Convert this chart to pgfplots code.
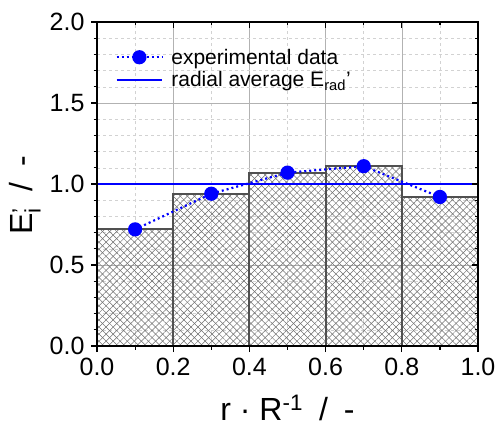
\documentclass[border=0pt]{standalone}
\usepackage{fontspec}
\setmainfont{Liberation Sans}
\usepackage{pgfplots}
\pgfplotsset{compat=1.18}
\usetikzlibrary{patterns.meta}

\definecolor{barline}{RGB}{80,80,80}
\definecolor{hatch}{RGB}{110,110,110}

\pgfplotsset{
  frame/.style={
    scale only axis,
    width=381pt, height=324pt,
    at={(0,0)}, anchor=south west,
    xmin=0, xmax=1, ymin=0, ymax=2,
    xtick={0,0.2,...,1.0}, ytick={0,0.5,...,2.0},
    minor x tick num=1, minor y tick num=4,
    axis line style={line width=2pt},
    every tick/.style={black, line width=1.2pt},
    major tick length=6pt, minor tick length=3.5pt,
  },
}

\begin{document}
\begin{tikzpicture}
\begin{axis}[
    frame,
    tick align=outside,
    xtick pos=left, ytick pos=left,
    grid=both,
    major grid style={gray!60, line width=0.6pt},
    minor grid style={dashed, gray!35, line width=0.5pt},
    /pgf/number format/assume math mode=true,
    /pgf/number format/fixed, /pgf/number format/fixed zerofill,
    /pgf/number format/precision=1,
    tick label style={font=\fontsize{25}{25}\selectfont},
    xticklabel style={yshift=-3pt},
    yticklabel style={xshift=-3pt},
    every axis x label/.style={at={(axis description cs:0.5,0)}, anchor=base, yshift=-74pt},
    every axis y label/.style={at={(axis description cs:0,0.465)}, xshift=-64pt, rotate=90, anchor=base},
    label style={font=\fontsize{32}{32}\selectfont},
    xlabel={r \textperiodcentered\ R\textsuperscript{-1}\enspace/\enspace-},
    ylabel={E\rlap{\raisebox{-0.12em}{\textsuperscript{'}}}\textsubscript{i}\enspace/\enspace-},
    legend style={draw=none, fill=none, at={(rel axis cs:0.04,0.93)}, anchor=north west,
        nodes={font=\fontsize{21}{21}\selectfont}, row sep=2pt},
    legend cell align=left,
    legend image code/.code={
        \draw[mark repeat=2, mark phase=2] plot coordinates {(0cm,0cm)(0.8cm,0cm)(1.6cm,0cm)};},
]

\addplot[
    ybar interval,
    draw=barline, line width=2pt,
    pattern={Lines[angle=45, distance=5pt, line width=0.5pt]}, pattern color=hatch,
    postaction={pattern={Lines[angle=-45, distance=5pt, line width=0.5pt]}, pattern color=hatch},
    forget plot,
    ]
    coordinates {
    (0.0,0.72)(0.2,0.94)(0.4,1.07)(0.6,1.11)(0.8,0.92)(1.0,0.92)
    };

\addplot[
    color=blue,
    line width=2.2pt,
    dash pattern=on 2pt off 3pt,
    mark=*,
    mark size=6pt,
    mark options={solid, fill=blue, draw=blue},
    ]
    coordinates {
    (0.1,0.72)(0.3,0.94)(0.5,1.07)(0.7,1.11)(0.9,0.92)
    };
    \addlegendentry{\hspace*{6pt}experimental data}

\addplot[
    color=blue,
    line width=2.4pt,
    ]
    coordinates {
    (0,1)(1,1)
    };
    \addlegendentry{\hspace*{6pt}radial average E\textsubscript{rad}'}

\end{axis}

% mirrored ticks on top and right point inwards
\begin{axis}[
    frame,
    tick align=inside,
    xtick pos=right, ytick pos=right,
    xticklabels={}, yticklabels={},
]
\end{axis}

\pgfresetboundingbox
\path (-97pt,-80pt) rectangle (400pt,346pt);
\end{tikzpicture}
\end{document}
